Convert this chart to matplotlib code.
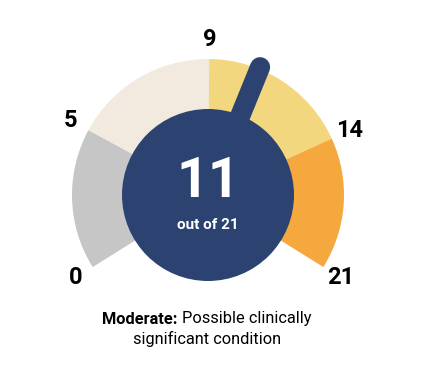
import numpy as np
import matplotlib
matplotlib.use("Agg")
import matplotlib.pyplot as plt
from matplotlib.patches import Wedge, Circle

# gauge data
bounds = [0, 5, 9, 14, 21]
band_colors = ["#c6c6c6", "#f2eadf", "#f3d77f", "#f4a83e"]
score = 11
max_score = 21
severity = "Moderate:"
description = ["Possible clinically", "significant condition"]

# dial angle (deg) of each band boundary
bound_angles = [212, 151.5, 89.5, 24.5, -32]

navy = "#2c4371"
cx, cy = 208, 183
r_outer, r_inner = 136, 86


def score_angle(v):
    # integer scores: band lo..hi holds hi-lo+1 steps
    for i in range(len(bounds) - 1):
        lo, hi = bounds[i], bounds[i + 1]
        if lo <= v < hi:
            f = (v - lo) / (hi - lo + 1)
            return bound_angles[i] + f * (bound_angles[i + 1] - bound_angles[i])
    return bound_angles[-1]


plt.rcParams["font.family"] = ["Roboto", "DejaVu Sans"]

fig = plt.figure(figsize=(4.24, 3.78), dpi=100)
ax = fig.add_axes([0, 0, 1, 1])
ax.set_xlim(0, 424)
ax.set_ylim(0, 378)
ax.set_aspect("equal")
ax.axis("off")

for i, col in enumerate(band_colors):
    ax.add_patch(Wedge((cx, cy), r_outer, bound_angles[i + 1], bound_angles[i],
                       facecolor=col, edgecolor="none", zorder=1))

# tick labels at band boundaries
for b, a in zip(bounds, bound_angles):
    t = np.deg2rad(a)
    ax.text(cx + 156 * np.cos(t), cy + 156 * np.sin(t), str(b), fontsize=17,
            fontweight="bold", ha="center", va="center", zorder=3)

# needle
na = np.deg2rad(score_angle(score))
ax.plot([cx, cx + 138 * np.cos(na)], [cy, cy + 138 * np.sin(na)],
        color=navy, lw=14.5, solid_capstyle="round", zorder=2)
ax.add_patch(Circle((cx, cy), r_inner, facecolor=navy, edgecolor="none", zorder=2))

ax.text(cx, 196, str(score), color="white", fontsize=40, fontweight="bold",
        ha="center", va="center", zorder=4)
ax.text(cx, 153, "out of %d" % max_score, color="white", fontsize=11,
        fontweight="bold", ha="center", va="center", zorder=4)

# caption with bold lead word
r = fig.canvas.get_renderer()
t1 = ax.text(0, 59, severity + " ", fontsize=11.8, fontweight="bold", ha="left", va="center")
t2 = ax.text(0, 59, description[0], fontsize=11.8, ha="left", va="center")
w1 = t1.get_window_extent(r).width
w2 = t2.get_window_extent(r).width
x0 = 207 - (w1 + w2) / 2
t1.set_x(x0)
t2.set_x(x0 + w1)
ax.text(207, 39, description[1], fontsize=11.8, ha="center", va="center")

fig.savefig("out.png", dpi=100)
